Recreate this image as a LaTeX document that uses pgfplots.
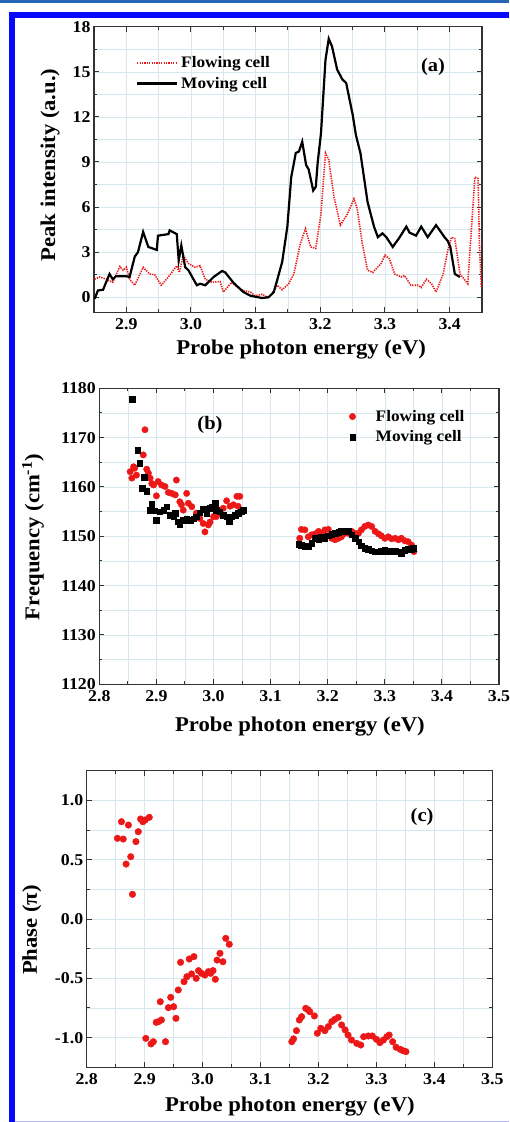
\documentclass[border=0pt]{standalone}
\usepackage{fontspec}
\setmainfont{Liberation Serif}[FakeStretch=1.08]
\usepackage{pgfplots}
\pgfplotsset{compat=1.18}

\definecolor{gridc}{RGB}{214,232,238}
\definecolor{dotred}{RGB}{236,24,24}
\definecolor{framebl}{RGB}{8,8,250}
\definecolor{topbl}{RGB}{40,100,180}

\pgfplotsset{
  panel/.style={
    scale only axis,
    grid=both, minor tick num=1,
    major grid style={gridc,line width=0.6pt},
    minor grid style={gridc,line width=0.6pt},
    tick align=inside, major tick length=5pt, minor tick length=3pt,
    xtick pos=both, ytick pos=both,
    axis line style={black!80,line width=1.4pt},
    every tick/.style={black!80,line width=1pt},
    tick label style={font=\fontsize{16.5}{16.5}\selectfont\bfseries},
    label style={font=\fontsize{21}{21}\selectfont\bfseries},
    /pgf/number format/assume math mode=true,
    xticklabel style={yshift=-3pt,/pgf/number format/.cd,fixed,fixed zerofill,precision=1},
    xlabel={Probe photon energy (eV)},
    ylabel style={anchor=center,rotate=0},
    xlabel style={anchor=center},
    legend style={draw=none,fill=none,font=\fontsize{16}{19}\selectfont\bfseries,
      row sep=4pt,cells={anchor=west}},
  }
}

\begin{document}
\begin{tikzpicture}
\useasboundingbox (0,0) rectangle (509pt,-1122pt);
% journal frame
\fill[topbl] (0,0) rectangle (509pt,-3pt);
\fill[framebl] (9pt,-12pt) rectangle (509pt,-18pt);
\fill[framebl] (9pt,-12pt) rectangle (15pt,-1122pt);
\fill[framebl!30] (15pt,-1120.5pt) rectangle (509pt,-1122pt);

% (a)
\begin{axis}[panel,
  at={(94pt,-312.3pt)}, anchor=south west,
  width=388pt, height=285.6pt,
  xmin=2.85, xmax=3.45, ymin=-1, ymax=18,
  xtick={2.9,3,3.1,3.2,3.3,3.4}, ytick={0,3,6,9,12,15,18},
  ylabel={Peak intensity (a.u.)},
  ylabel style={at={(axis description cs:-0.113,0.516)}},
  xlabel style={at={(axis description cs:0.534,-0.132)}},
  legend style={at={(axis description cs:0.1,0.91)},anchor=north west,column sep=1pt},
  legend image code/.code={\draw[#1] (0pt,0pt) -- (40pt,0pt);},
]
\addplot[dotred,line width=1.6pt,dash pattern=on 1.3pt off 1.1pt] coordinates {
(2.851,1.2) (2.859,1.35) (2.869,1.2) (2.879,1.0) (2.890,2.05) (2.895,1.8) (2.900,2.0)
(2.905,1.2) (2.913,0.8) (2.926,2.0) (2.936,1.55) (2.944,1.5) (2.954,0.8) (2.965,1.35)
(2.978,2.1) (2.982,1.65) (2.988,2.8) (2.996,2.25) (3.006,2.0) (3.014,2.1) (3.022,1.2)
(3.032,1.0) (3.045,1.05) (3.050,0.35) (3.063,1.0) (3.071,0.7) (3.081,0.45) (3.092,0.35)
(3.099,0.1) (3.110,0.2) (3.118,0.0) (3.125,0.2) (3.133,0.8) (3.141,0.5) (3.151,0.9)
(3.159,1.55) (3.169,3.55) (3.177,4.55) (3.185,3.35) (3.193,3.25) (3.201,5.55) (3.208,9.6)
(3.213,9.15) (3.221,6.7) (3.231,4.8) (3.242,5.55) (3.252,6.55) (3.257,5.9) (3.265,3.55)
(3.273,1.8) (3.281,1.65) (3.294,2.25) (3.300,2.8) (3.307,2.55) (3.315,1.55) (3.325,1.35)
(3.330,1.45) (3.340,0.8) (3.351,0.8) (3.356,0.65) (3.364,1.2) (3.372,0.9) (3.379,0.35)
(3.390,1.55) (3.397,3.1) (3.403,4.0) (3.408,3.9) (3.416,1.55) (3.428,0.9) (3.439,8.0)
(3.444,7.9) (3.446,3.55) (3.449,0.65)};
\addplot[black,line width=2.2pt] coordinates {
(2.851,-0.1) (2.856,0.45) (2.864,0.5) (2.874,1.55) (2.879,1.2) (2.884,1.4) (2.900,1.4)
(2.905,1.35) (2.913,2.7) (2.918,3.0) (2.926,4.35) (2.934,3.35) (2.947,3.15) (2.949,4.1)
(2.965,4.2) (2.967,4.45) (2.978,4.2) (2.981,2.45) (2.985,3.45) (2.991,2.0) (2.996,1.8)
(3.009,0.8) (3.014,0.9) (3.022,0.8) (3.035,1.35) (3.048,1.75) (3.053,1.65) (3.066,0.95)
(3.081,0.35) (3.092,0.1) (3.110,-0.05) (3.120,0.0) (3.128,0.35) (3.133,1.1) (3.141,2.35)
(3.149,4.7) (3.155,8.0) (3.159,8.9) (3.162,9.6) (3.167,9.7) (3.172,10.35) (3.178,8.8)
(3.182,8.5) (3.189,7.1) (3.193,7.35) (3.196,9.0) (3.201,10.9) (3.208,15.8) (3.213,17.2)
(3.218,16.7) (3.226,15.15) (3.234,14.5) (3.240,14.25) (3.250,12.15) (3.255,10.8)
(3.262,9.6) (3.273,6.35) (3.283,4.7) (3.289,4.0) (3.296,4.25) (3.302,4.0) (3.312,3.35)
(3.322,3.95) (3.333,4.7) (3.338,4.3) (3.348,4.1) (3.356,4.7) (3.366,4.0) (3.379,4.8)
(3.392,4.0) (3.397,3.75) (3.401,3.35) (3.408,1.55) (3.416,1.35)};
\legend{Flowing cell,Moving cell}
\node[font=\fontsize{19}{19}\selectfont\bfseries] at (axis description cs:0.874,0.859) {(a)};
\end{axis}

% (b)
\begin{axis}[panel,
  at={(99.3pt,-684.3pt)}, anchor=south west,
  width=399.7pt, height=296pt,
  xmin=2.8, xmax=3.5, ymin=1120, ymax=1180,
  xtick={2.8,2.9,3,3.1,3.2,3.3,3.4,3.5}, ytick={1120,1130,...,1180},
  yticklabel style={/pgf/number format/set thousands separator={}},
  ylabel={Frequency (cm\textsuperscript{-1})},
  ylabel style={at={(axis description cs:-0.166,0.498)}},
  xlabel style={at={(axis description cs:0.502,-0.143)}},
  legend style={at={(axis description cs:0.6175,0.94)},anchor=north west,column sep=18pt},
]
\addplot[only marks,mark=*,mark size=3.2pt,color=dotred] coordinates {
(2.854,1163.1) (2.857,1161.8) (2.860,1164.1) (2.862,1163.8) (2.865,1162.4) (2.877,1166.5)
(2.880,1171.6) (2.883,1163.6) (2.886,1162.8) (2.889,1161.8) (2.892,1160.7) (2.895,1160.4)
(2.900,1158.2) (2.903,1161.1) (2.909,1160.4) (2.915,1160.1) (2.921,1158.9) (2.927,1158.7)
(2.933,1158.4) (2.935,1161.4) (2.941,1157.0) (2.944,1156.4) (2.947,1155.3) (2.953,1158.7)
(2.956,1156.7) (2.962,1156.0) (2.970,1154.7) (2.976,1153.6) (2.982,1152.6) (2.985,1150.9)
(2.991,1152.3) (2.994,1152.9) (3.000,1154.0) (3.005,1154.0) (3.011,1154.7) (3.017,1155.7)
(3.023,1157.2) (3.029,1156.1) (3.035,1156.4) (3.041,1158.1) (3.043,1156.1) (3.046,1158.1)
(3.151,1149.6) (3.154,1151.4) (3.160,1151.3) (3.166,1149.9) (3.172,1150.3) (3.178,1150.5)
(3.184,1151.0) (3.189,1150.5) (3.195,1151.3) (3.201,1151.4) (3.207,1149.6) (3.213,1149.3)
(3.219,1149.6) (3.224,1149.9) (3.230,1150.6) (3.236,1150.6) (3.242,1151.0) (3.248,1150.6)
(3.254,1150.6) (3.259,1151.3) (3.265,1152.0) (3.271,1152.3) (3.277,1152.0) (3.283,1151.0)
(3.289,1150.5) (3.294,1150.1) (3.300,1149.6) (3.306,1149.9) (3.312,1149.5) (3.318,1149.6)
(3.324,1149.3) (3.329,1149.6) (3.335,1149.1) (3.341,1148.9) (3.347,1148.2) (3.351,1146.9)};
\addplot[only marks,mark=square*,mark size=2.8pt,color=black] coordinates {
(2.858,1177.8) (2.867,1167.5) (2.871,1164.8) (2.875,1159.7) (2.879,1162.0) (2.883,1159.1)
(2.888,1155.3) (2.892,1156.5) (2.897,1155.2) (2.900,1153.3) (2.906,1155.0) (2.913,1155.3)
(2.918,1156.0) (2.924,1154.3) (2.930,1154.0) (2.933,1154.7) (2.938,1153.0) (2.941,1152.5)
(2.947,1153.3) (2.953,1153.6) (2.959,1153.3) (2.965,1153.6) (2.970,1154.0) (2.976,1154.8)
(2.982,1155.5) (2.988,1154.7) (2.993,1155.7) (2.997,1156.0) (3.003,1156.7) (3.005,1155.3)
(3.011,1155.0) (3.017,1154.3) (3.023,1154.0) (3.027,1153.0) (3.032,1154.0) (3.038,1154.3)
(3.043,1154.7) (3.049,1155.0) (3.052,1155.3)
(3.149,1148.4) (3.154,1148.2) (3.160,1148.0) (3.166,1148.0) (3.172,1148.6) (3.178,1149.6)
(3.184,1149.4) (3.189,1149.9) (3.195,1149.6) (3.201,1150.1) (3.207,1150.4) (3.213,1150.6)
(3.219,1150.8) (3.224,1151.0) (3.230,1151.1) (3.236,1151.0) (3.242,1150.3) (3.248,1149.6)
(3.254,1148.9) (3.259,1148.1) (3.265,1147.6) (3.271,1147.4) (3.277,1147.1) (3.283,1146.9)
(3.289,1146.9) (3.294,1147.0) (3.300,1147.2) (3.306,1147.0) (3.312,1146.9) (3.318,1147.0)
(3.324,1146.9) (3.329,1146.6) (3.335,1147.2) (3.341,1147.4) (3.347,1147.4) (3.350,1147.6)};
\legend{Flowing cell,Moving cell}
\node[font=\fontsize{19}{19}\selectfont\bfseries] at (axis description cs:0.277,0.876) {(b)};
\end{axis}

% (c)
\begin{axis}[panel,
  at={(86.7pt,-1067.3pt)}, anchor=south west,
  width=405.6pt, height=296.6pt,
  xmin=2.8, xmax=3.5, ymin=-1.25, ymax=1.25,
  xtick={2.8,2.9,3,3.1,3.2,3.3,3.4,3.5}, ytick={-1,-0.5,0,0.5,1},
  yticklabel style={/pgf/number format/.cd,fixed,fixed zerofill,precision=1},
  ylabel={Phase (π)},
  ylabel style={at={(axis description cs:-0.135,0.463)}},
  xlabel style={at={(axis description cs:0.501,-0.133)}},
]
\addplot[only marks,mark=*,mark size=3.3pt,color=dotred] coordinates {
(2.853,0.680) (2.860,0.820) (2.863,0.674) (2.868,0.463) (2.872,0.792) (2.876,0.525)
(2.879,0.208) (2.885,0.652) (2.889,0.736) (2.893,0.843) (2.897,0.820) (2.901,0.835)
(2.908,0.857)
(2.902,-1.006) (2.911,-1.053) (2.915,-1.034) (2.920,-0.871) (2.924,-0.865) (2.927,-0.697)
(2.929,-0.851) (2.936,-1.034) (2.941,-0.747) (2.945,-0.660) (2.950,-0.739) (2.954,-0.837)
(2.958,-0.598) (2.962,-0.365) (2.968,-0.528) (2.973,-0.486) (2.977,-0.337) (2.981,-0.463)
(2.985,-0.317) (2.989,-0.500) (2.993,-0.435) (2.998,-0.458) (3.004,-0.472) (3.010,-0.444)
(3.014,-0.458) (3.018,-0.435) (3.022,-0.508) (3.025,-0.346) (3.030,-0.289) (3.035,-0.360)
(3.040,-0.163) (3.046,-0.213)
(3.154,-1.034) (3.157,-1.010) (3.162,-0.941) (3.167,-0.851) (3.171,-0.823) (3.178,-0.753)
(3.182,-0.765) (3.185,-0.781) (3.193,-0.817) (3.198,-0.963) (3.204,-0.921) (3.211,-0.941)
(3.217,-0.907) (3.223,-0.865) (3.228,-0.846) (3.234,-0.829) (3.240,-0.893) (3.246,-0.935)
(3.251,-0.978) (3.257,-1.020) (3.266,-1.048) (3.273,-1.062) (3.278,-0.992) (3.286,-0.986)
(3.293,-0.986) (3.300,-1.014) (3.306,-1.042) (3.312,-1.020) (3.318,-0.992) (3.322,-0.978)
(3.328,-1.034) (3.334,-1.081) (3.341,-1.098) (3.346,-1.110) (3.351,-1.118)};
\node[font=\fontsize{19}{19}\selectfont\bfseries] at (axis description cs:0.827,0.844) {(c)};
\end{axis}
\end{tikzpicture}
\end{document}
